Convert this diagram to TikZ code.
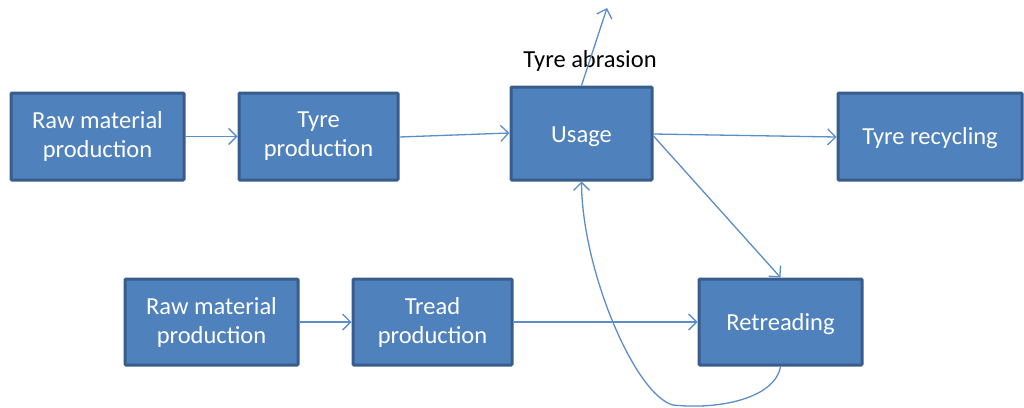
\documentclass[tikz,border=0pt]{standalone}
\usepackage{fontspec}
\setmainfont{Carlito}
\usetikzlibrary{arrows.meta}
\definecolor{boxfill}{HTML}{4F81BD}
\definecolor{boxline}{HTML}{385D8A}
\definecolor{conn}{HTML}{5B8DC8}
\newcommand{\lowered}[1]{\raisebox{-8pt}[0pt][0pt]{#1}}
\begin{document}
\begin{tikzpicture}[x=1pt,y=-1pt,
  box/.style={draw=boxline,line width=3pt,fill=boxfill,rounded corners=1pt,
    text=white,align=center,font=\fontsize{24.5}{29}\selectfont,inner sep=0pt},
  conn/.style={draw=conn,line width=1.3pt,-{Straight Barb[length=8pt,width=16pt,line width=1.3pt]}}]
\useasboundingbox (0,0) rectangle (1024,407);
\node[box,minimum width=173,minimum height=87] (raw1) at (97.5,136.5) {Raw material\\production};
\node[box,minimum width=159,minimum height=87] (tyre) at (318.5,136.5) {Tyre\\production};
\node[box,minimum width=141,minimum height=93] (usage) at (581.5,133.5) {\raisebox{-9pt}[0pt][0pt]{Usage}};
\node[box,minimum width=184,minimum height=87] (recyc) at (930,136.5) {\lowered{Tyre recycling}};
\node[box,minimum width=173,minimum height=86] (raw2) at (211.5,322) {Raw material\\production};
\node[box,minimum width=159,minimum height=86] (tread) at (432.5,322) {Tread\\production};
\node[box,minimum width=163,minimum height=86] (retread) at (780.5,322) {\lowered{Retreading}};
\node[font=\fontsize{24.5}{29}\selectfont,inner sep=0pt] (abr) at (590,61) {Tyre abrasion};
\coordinate (abrend) at (607,8);
\coordinate (low) at (673,405);
\draw[conn] (raw1.east) -- (tyre.west);
\draw[conn] (tyre.east |- 0,137) -- (usage.west |- 0,133);
\draw[conn] (usage.east |- 0,134) -- (recyc.west |- 0,137);
\draw[conn] (usage.east |- 0,136) -- (retread.north);
\draw[conn] (usage.north) -- (abrend);
\draw[conn] (raw2.east) -- (tread.west);
\draw[conn] (tread.east) -- (retread.west);
\draw[conn] (retread.south) .. controls (775,398) and (720,410) .. (low)
  .. controls (635,395) and (582,270) .. (usage.south);
\end{tikzpicture}
\end{document}
